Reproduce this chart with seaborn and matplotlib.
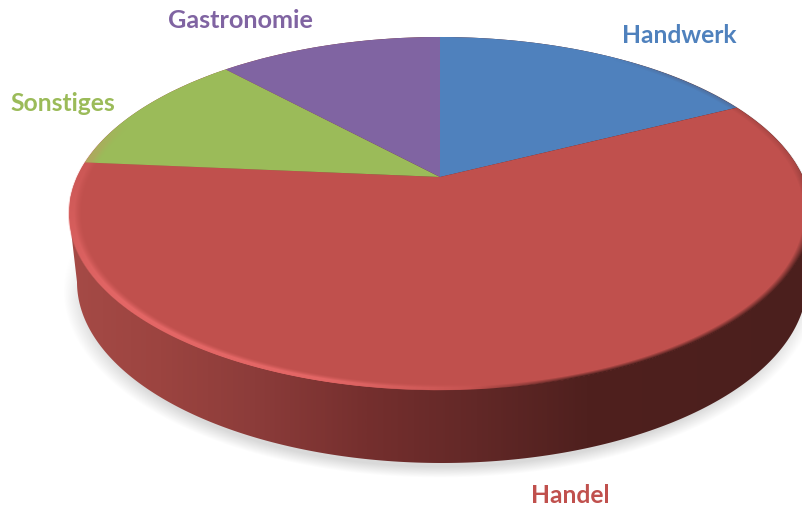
import numpy as np
import seaborn as sns
import matplotlib
matplotlib.use('Agg')
import matplotlib.pyplot as plt
from matplotlib.colors import LinearSegmentedColormap
from matplotlib.patches import Polygon
from matplotlib.transforms import Transform

# datos
labels = ['Handwerk', 'Handel', 'Sonstiges', 'Gastronomie']
values = [17.6, 58.8, 11.7, 11.9]
colors = ['#4F81BD', '#C0504D', '#9BBB59', '#8064A2']

sns.set_theme(style='white')
plt.rcParams['font.family'] = ['Lato', 'DejaVu Sans']

W, H = 802, 507
# geometria de la tarta en pixeles
cx, cy, rx, ry, k = 440, 177, 363, 169, 0.207
# elipses en pantalla: cara superior, base y sombra
top = (440, 213.5, 371, 176.5)
bottom = (442, 282, 365, 181)
shadow = (440, 290, 377, 188)


class Perspective(Transform):
    input_dims = 2
    output_dims = 2

    def transform_non_affine(self, xy):
        xy = np.asarray(xy)
        w = 1 + k * xy[:, 1]
        return np.column_stack([cx + rx * xy[:, 0] / w, cy - ry * xy[:, 1] / w])


def norm_radius(xx, yy, ell):
    return np.hypot((xx - ell[0]) / ell[2], (yy - ell[1]) / ell[3])


def ramp(a, lo, hi):
    return np.clip((a - lo) / (hi - lo), 0, 1)


fig = plt.figure(figsize=(W / 100, H / 100), dpi=100)
ax = fig.add_axes([0, 0, 1, 1])

xx, yy = np.meshgrid(np.arange(W) + 0.5, np.arange(H) + 0.5)

# sombra difusa
e = norm_radius(xx, yy, shadow)
sombra = np.zeros((H, W, 4))
sombra[..., 3] = 0.15 * ramp(1 - e, 0, 0.06) * ramp(yy, 230, 300)
ax.imshow(sombra, extent=(0, W, H, 0), aspect='auto', zorder=1)

# pared lateral con degradado
wall_cmap = LinearSegmentedColormap.from_list('wall', [
    (0.00, '#A54A46'), (0.12, '#9C4440'), (0.25, '#8C3C3A'), (0.40, '#752F2E'),
    (0.55, '#622827'), (0.70, '#4F201E'), (1.00, '#4B1F1D')])
t = np.linspace(np.pi, 0, 200)
low = np.column_stack([bottom[0] + bottom[2] * np.cos(t), bottom[1] + bottom[3] * np.sin(t)])
up = np.column_stack([top[0] + top[2] * np.cos(t[::-1]), top[1] - top[3] * np.sin(t[::-1])])
borde = Polygon(np.vstack([low, up]), closed=True, transform=ax.transData, facecolor='none', edgecolor='none')
ax.add_patch(borde)
im = ax.imshow(np.linspace(0, 1, 400).reshape(1, -1), extent=(70, 810, H, 0), aspect='auto',
               cmap=wall_cmap, zorder=2)
im.set_clip_path(borde)

# cara superior
wedges, _ = ax.pie(values, colors=colors, startangle=90, counterclock=False, frame=True,
                   wedgeprops={'linewidth': 0})
persp = Perspective()
for wedge in wedges:
    wedge.set_transform(persp + ax.transData)
    wedge.set_zorder(3)

# bisel del borde: brillo a la izquierda, oscuro a la derecha
e = norm_radius(xx, yy, top)
phi = np.degrees(np.arctan2(yy - top[1], xx - top[0]))
phi = np.where(phi < -90, phi + 360, phi)
dentro = ramp(e, 1.004, 1.0)
banda = ramp(e, 0.964, 0.986) ** 1.5
peso = ramp(phi, 72, 125) * (1 - 0.6 * ramp(phi, 165, 185)) * ramp(phi, 196, 186)
brillo = np.zeros((H, W, 4))
brillo[..., :3] = np.array([236, 108, 108]) / 255
brillo[..., 3] = banda * peso * dentro * 0.8
ax.imshow(brillo, extent=(0, W, H, 0), aspect='auto', zorder=4)

peso = ramp(phi, 80, 50) * (0.2 + 0.8 * ramp(phi, -8, 8)) * ramp(phi, -42, -30)
oscuro = np.zeros((H, W, 4))
oscuro[..., :3] = np.array([75, 31, 29]) / 255
oscuro[..., 3] = ramp(e, 0.98, 1.0) * peso * dentro
ax.imshow(oscuro, extent=(0, W, H, 0), aspect='auto', zorder=4)

# etiquetas
ax.text(622, 43, labels[0], color=colors[0], fontsize=17.7, fontweight='bold', zorder=5)
ax.text(531, 503, labels[1], color=colors[1], fontsize=17.7, fontweight='bold', zorder=5)
ax.text(10, 111, labels[2], color=colors[2], fontsize=17.7, fontweight='bold', zorder=5)
ax.text(168, 28, labels[3], color=colors[3], fontsize=18.2, fontweight='bold', zorder=5)

ax.set_xlim(0, W)
ax.set_ylim(H, 0)
ax.axis('off')
fig.savefig('out.png', dpi=100, facecolor='white')
